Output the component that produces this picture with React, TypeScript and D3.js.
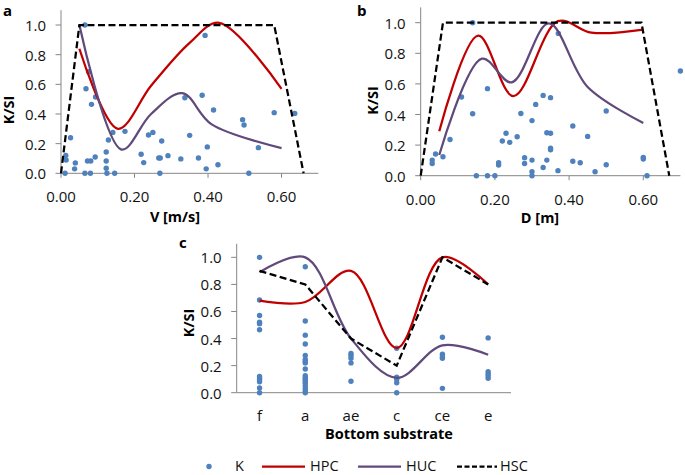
import React from "react";
import * as d3 from "d3";

// ---------- data ----------
// Panel a: V [m/s] vs K/SI
const aDots: [number, number][] = [
  [0.065, 1.0], [0.013, 0.12], [0.014, 0.09], [0.011, 0], [0.026, 0.24], [0.039, 0.07],
  [0.037, 0.03], [0.068, 0.57], [0.075, 0.685], [0.083, 0.465], [0.094, 0.515], [0.072, 0.083],
  [0.081, 0.083], [0.093, 0.11], [0.065, 0], [0.08, 0], [0.123, 0.144], [0.123, 0.083],
  [0.123, 0.034], [0.125, 0], [0.129, 0.225], [0.141, 0.276], [0.146, 0], [0.174, 0.283],
  [0.218, 0.128], [0.225, 0.072], [0.238, 0.258], [0.25, 0.276], [0.274, 0.218], [0.266, 0.103],
  [0.27, 0.103], [0.291, 0.119], [0.269, 0], [0.326, 0.097], [0.337, 0.51], [0.35, 0.256],
  [0.374, 0.103], [0.384, 0.526], [0.392, 0.93], [0.398, 0.178], [0.395, 0.03], [0.415, 0.427],
  [0.427, 0.058], [0.494, 0.362], [0.498, 0.326], [0.511, 0], [0.537, 0.173], [0.58, 0.409],
  [0.636, 0.404],
];
const aHPC: [number, number][] = [[0.05, 0.84], [0.155, 0.3], [0.245, 0.59], [0.35, 0.88], [0.43, 1.015], [0.6, 0.57]];
const aHUC: [number, number][] = [[0.05, 1.0], [0.165, 0.16], [0.245, 0.4], [0.33, 0.54], [0.41, 0.33], [0.6, 0.17]];
const aHSC: [number, number][] = [[0, 0], [0.05, 1.0], [0.58, 1.0], [0.66, 0]];

// Panel b: D [m] vs K/SI
const bDots: [number, number][] = [
  [0.14, 1.0], [0.371, 0.93], [0.7, 0.684], [0.18, 0.569], [0.11, 0.514], [0.14, 0.405],
  [0.079, 0.237], [0.04, 0.142], [0.031, 0.102], [0.031, 0.08], [0.06, 0.124], [0.15, 0],
  [0.18, 0], [0.2, 0], [0.21, 0.085], [0.21, 0.07], [0.22, 0.227], [0.23, 0.277], [0.24, 0.218],
  [0.26, 0.255], [0.27, 0.407], [0.28, 0.118], [0.28, 0.08], [0.3, 0.36], [0.3, 0.102],
  [0.3, 0.026], [0.3, 0], [0.31, 0.466], [0.33, 0.525], [0.33, 0.054], [0.34, 0.281],
  [0.34, 0.102], [0.35, 0.51], [0.35, 0.277], [0.35, 0.179], [0.35, 0.17], [0.37, 0.033],
  [0.41, 0.325], [0.41, 0.094], [0.43, 0.085], [0.45, 0.257], [0.47, 0.026], [0.5, 0.423],
  [0.5, 0.072], [0.6, 0.12], [0.6, 0.109], [0.61, 0],
];
const bHPC: [number, number][] = [[0.05, 0.29], [0.155, 0.915], [0.25, 0.52], [0.37, 1.01], [0.46, 0.935], [0.6, 0.955]];
const bHUC: [number, number][] = [[0.05, 0.135], [0.165, 0.765], [0.245, 0.61], [0.345, 0.995], [0.45, 0.58], [0.6, 0.345]];
const bHSC: [number, number][] = [[0, 0], [0.06, 1.0], [0.595, 1.0], [0.67, 0]];

// Panel c: bottom substrate vs K/SI
const cCategories = ["f", "a", "ae", "c", "ce", "e"];
const cDotsF = [1.0, 0.685, 0.57, 0.52, 0.51, 0.465, 0.12, 0.105, 0.095, 0.08, 0.035, 0];
const cDotsA = [0.93, 0.53, 0.425, 0.36, 0.275, 0.245, 0.23, 0.22, 0.175, 0.125, 0.11, 0.1, 0.085, 0.07, 0.05, 0.03, 0.01, 0];
const cDotsAE = [0.29, 0.275, 0.255, 0.22, 0.085];
const cDotsC = [0.328, 0.114, 0.1, 0.074, 0];
const cDotsCE = [0.41, 0.284, 0.266, 0.254, 0.032];
const cDotsE = [0.405, 0.155, 0.138, 0.123, 0.106];
const cHPC = [0.68, 0.67, 0.9, 0.33, 1.0, 0.8];
const cHUC = [0.89, 1.0, 0.4, 0.11, 0.35, 0.28];
const cHSC = [0.9, 0.8, 0.4, 0.2, 1.0, 0.8];

const yTicks = [0, 0.2, 0.4, 0.6, 0.8, 1.0];
const xTicks = [0, 0.2, 0.4, 0.6];
const legendLabels = ["K", "HPC", "HUC", "HSC"];

// ---------- style ----------
const BLUE = "#4F81BD";
const RED = "#C00000";
const PURPLE = "#604A7B";
const AXIS = "#868686";
const FONT = "'Open Sans', 'Liberation Sans', sans-serif";
const LW = 2.25;
const DASH = "7,3.5";

const smooth = d3.curveCatmullRom.alpha(0.5);

function YAxis({ y, x0 }: { y: d3.ScaleLinear<number, number>; x0: number }) {
  const [bot, top] = y.range();
  return (
    <g>
      <line x1={x0} x2={x0} y1={bot} y2={top} stroke={AXIS} strokeWidth={1} />
      {yTicks.map((t) => (
        <g key={t}>
          <line x1={x0 - 5.5} x2={x0} y1={y(t)} y2={y(t)} stroke={AXIS} strokeWidth={1} />
          <text x={x0 - 15} y={y(t)} textAnchor="end" dominantBaseline="central" fontSize={15} fontFamily={FONT} fill="#111">
            {t.toFixed(1)}
          </text>
        </g>
      ))}
    </g>
  );
}

function NumPanel({
  dots, hpc, huc, hsc, x, y, xLabelY, title, titleX, titleY, letter, letterX, letterY, ylabX, ylabY,
}: any) {
  const line = d3.line<[number, number]>().x((d) => x(d[0])).y((d) => y(d[1]));
  const sline = d3.line<[number, number]>().x((d) => x(d[0])).y((d) => y(d[1])).curve(smooth);
  const [x0, x1] = x.range();
  const yb = y(0);
  return (
    <g>
      <YAxis y={y} x0={x0} />
      <line x1={x0} x2={x1} y1={yb} y2={yb} stroke={AXIS} strokeWidth={1} />
      {xTicks.map((t) => (
        <g key={t}>
          <line x1={x(t)} x2={x(t)} y1={yb} y2={yb + 4.5} stroke={AXIS} strokeWidth={1} />
          <text x={x(t)} y={xLabelY} textAnchor="middle" dominantBaseline="central" fontSize={15} fontFamily={FONT} fill="#111">
            {t.toFixed(2)}
          </text>
        </g>
      ))}
      {dots.map((d: [number, number], i: number) => (
        <circle key={i} cx={x(d[0])} cy={y(d[1])} r={2.7} fill={BLUE} />
      ))}
      <path d={sline(hpc) || ""} fill="none" stroke={RED} strokeWidth={LW} />
      <path d={sline(huc) || ""} fill="none" stroke={PURPLE} strokeWidth={LW} />
      <path d={line(hsc) || ""} fill="none" stroke="#000" strokeWidth={LW} strokeDasharray={DASH} />
      <text x={titleX} y={titleY} textAnchor="middle" dominantBaseline="central" fontSize={14.5} fontWeight="bold" fontFamily={FONT}>
        {title}
      </text>
      <text x={letterX} y={letterY} dominantBaseline="central" fontSize={15} fontWeight="bold" fontFamily={FONT}>
        {letter}
      </text>
      <text transform={`translate(${ylabX},${ylabY}) rotate(-90)`} textAnchor="middle" dominantBaseline="central" fontSize={14.5} fontWeight="bold" fontFamily={FONT}>
        K/SI
      </text>
    </g>
  );
}

export default function App() {
  const ax = d3.scaleLinear().domain([0, 0.7]).range([61, 318.3]);
  const ay = d3.scaleLinear().domain([0, 1.1]).range([173.3, 10.2]);
  const bx = d3.scaleLinear().domain([0, 0.7]).range([420.7, 680.4]);
  const by = d3.scaleLinear().domain([0, 1.1]).range([175.7, 7.4]);
  const cx = d3.scaleBand().domain(cCategories).range([236.7, 511]);
  const cy = d3.scaleLinear().domain([0, 1.1]).range([392.7, 243.8]);
  const cc = (c: string) => (cx(c) as number) + cx.bandwidth() / 2;

  const cColumns = [cDotsF, cDotsA, cDotsAE, cDotsC, cDotsCE, cDotsE];
  const cl = d3.line<number>().x((_, i) => cc(cCategories[i])).y((v) => cy(v));
  const csl = d3.line<number>().x((_, i) => cc(cCategories[i])).y((v) => cy(v)).curve(smooth);

  const legendY = 465.5;
  return (
    <svg width={685} height={475} style={{ position: "absolute", left: 0, top: 0, background: "#fff" }}>
      <NumPanel dots={aDots} hpc={aHPC} huc={aHUC} hsc={aHSC} x={ax} y={ay} xLabelY={196}
        title="V [m/s]" titleX={175} titleY={216} letter="a" letterX={3} letterY={10} ylabX={8.5} ylabY={110} />
      <NumPanel dots={bDots} hpc={bHPC} huc={bHUC} hsc={bHSC} x={bx} y={by} xLabelY={199}
        title="D [m]" titleX={540} titleY={217} letter="b" letterX={357} letterY={10} ylabX={372} ylabY={100.5} />

      {/* panel c */}
      <g>
        <YAxis y={cy} x0={236.7} />
        <line x1={236.7} x2={511} y1={cy(0)} y2={cy(0)} stroke={AXIS} strokeWidth={1} />
        {cCategories.map((c) => (
          <text key={c} x={cc(c)} y={415} textAnchor="middle" dominantBaseline="central" fontSize={15} fontFamily={FONT} fill="#111">
            {c}
          </text>
        ))}
        {cColumns.map((col, i) =>
          col.map((v, j) => <circle key={`${i}-${j}`} cx={cc(cCategories[i])} cy={cy(v)} r={2.7} fill={BLUE} />)
        )}
        <path d={csl(cHPC) || ""} fill="none" stroke={RED} strokeWidth={LW} />
        <path d={csl(cHUC) || ""} fill="none" stroke={PURPLE} strokeWidth={LW} />
        <path d={cl(cHSC) || ""} fill="none" stroke="#000" strokeWidth={LW} strokeDasharray={DASH} />
        <text x={389} y={433} textAnchor="middle" dominantBaseline="central" fontSize={14.5} fontWeight="bold" fontFamily={FONT}>
          Bottom substrate
        </text>
        <text x={179} y={242} dominantBaseline="central" fontSize={15} fontWeight="bold" fontFamily={FONT}>
          c
        </text>
        <text transform={`translate(188,323) rotate(-90)`} textAnchor="middle" dominantBaseline="central" fontSize={14.5} fontWeight="bold" fontFamily={FONT}>
          K/SI
        </text>
      </g>

      {/* legend */}
      <g fontFamily={FONT} fontSize={14.5} fill="#111">
        <circle cx={209} cy={legendY + 1} r={2.7} fill={BLUE} />
        <text x={235} y={legendY} dominantBaseline="central">{legendLabels[0]}</text>
        <line x1={262} x2={305} y1={legendY + 1} y2={legendY + 1} stroke={RED} strokeWidth={LW} />
        <text x={310} y={legendY} dominantBaseline="central">{legendLabels[1]}</text>
        <line x1={358} x2={401} y1={legendY + 1} y2={legendY + 1} stroke={PURPLE} strokeWidth={LW} />
        <text x={406} y={legendY} dominantBaseline="central">{legendLabels[2]}</text>
        <line x1={457} x2={497} y1={legendY + 1} y2={legendY + 1} stroke="#000" strokeWidth={LW} strokeDasharray="5,2.5" />
        <text x={500} y={legendY} dominantBaseline="central">{legendLabels[3]}</text>
      </g>
    </svg>
  );
}
